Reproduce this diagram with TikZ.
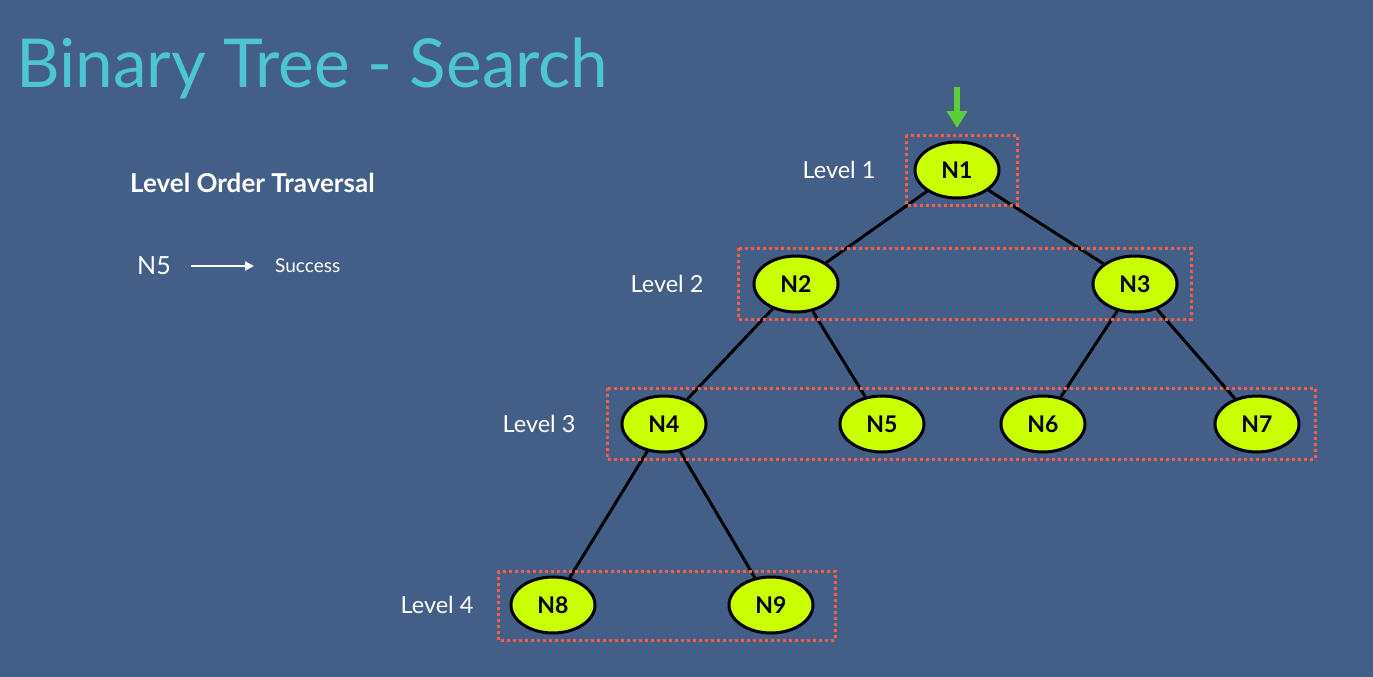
\documentclass[tikz,border=0pt]{standalone}
\usepackage{fontspec}
\setmainfont{Lato}
\usetikzlibrary{arrows.meta,shapes.geometric}
\definecolor{bg}{HTML}{435E87}
\definecolor{titlecol}{HTML}{4EC5D2}
\definecolor{nodefill}{HTML}{C9FF00}
\definecolor{boxcol}{HTML}{FF5E47}
\definecolor{arrowgreen}{HTML}{5CCF38}
\tikzset{
  tnode/.style={ellipse, draw=black, line width=3pt, fill=nodefill, minimum width=84pt, minimum height=56pt, inner sep=0pt, font=\fontsize{23}{25}\selectfont\bfseries},
  lvl/.style={text=white, font=\fontsize{23.5}{26}\selectfont, anchor=center},
  levelbox/.style={draw=boxcol, line width=3pt, dash pattern=on 3pt off 3pt},
  edge/.style={draw=black, line width=3pt}
}
\begin{document}
\begin{tikzpicture}[x=1pt,y=-1pt]
\useasboundingbox (0,0) rectangle (1373,677);
\fill[bg] (0,0) rectangle (1373,677);
% title
\node[anchor=base west, inner sep=0pt, text=titlecol, font=\fontsize{67.5}{70}\selectfont] (title) at (16,88) {Binary Tree - Search};
\node[anchor=west, inner sep=0pt, text=white, font=\fontsize{26}{28}\selectfont\bfseries] (lot) at (130,183) {Level Order Traversal};
\node[anchor=west, inner sep=0pt, text=white, font=\fontsize{25}{28}\selectfont] (n5t) at (137,266) {N5};
\node[anchor=west, inner sep=0pt, text=white, font=\fontsize{19}{22}\selectfont] (succ) at (275,266) {Success};
\coordinate (a1) at (191,266);
\coordinate (a2) at (254,266);
\draw[white, line width=2pt, -{Triangle[length=9pt,width=9pt]}] (a1) -- (a2);
% tree nodes
\node[tnode] (N1) at (957,170) {N1};
\node[tnode] (N2) at (796,284) {N2};
\node[tnode] (N3) at (1135,284) {N3};
\node[tnode] (N4) at (664,424) {N4};
\node[tnode] (N5) at (882,424) {N5};
\node[tnode] (N6) at (1043,424) {N6};
\node[tnode] (N7) at (1257,424) {N7};
\node[tnode] (N8) at (553,605) {N8};
\node[tnode] (N9) at (771,605) {N9};
\draw[edge] (N1) -- (N2);
\draw[edge] (N1) -- (N3);
\draw[edge] (N2) -- (N4);
\draw[edge] (N2) -- (N5);
\draw[edge] (N3) -- (N6);
\draw[edge] (N3) -- (N7);
\draw[edge] (N4) -- (N8);
\draw[edge] (N4) -- (N9);
% level boxes
\draw[levelbox] (906,135) rectangle (1017,205);
\draw[levelbox] (738,248) rectangle (1191,319);
\draw[levelbox] (607,388) rectangle (1315,459);
\draw[levelbox] (498,571) rectangle (835,640);
% level labels
\node[lvl] (L1) at (839,170) {Level 1};
\node[lvl] (L2) at (667,284) {Level 2};
\node[lvl] (L3) at (539,424) {Level 3};
\node[lvl] (L4) at (437,605) {Level 4};
% green arrow
\coordinate (g1) at (957,87);
\coordinate (g2) at (957,128);
\draw[arrowgreen, line width=6pt, -{Triangle[length=17pt,width=20pt]}] (g1) -- (g2);
\end{tikzpicture}
\end{document}
